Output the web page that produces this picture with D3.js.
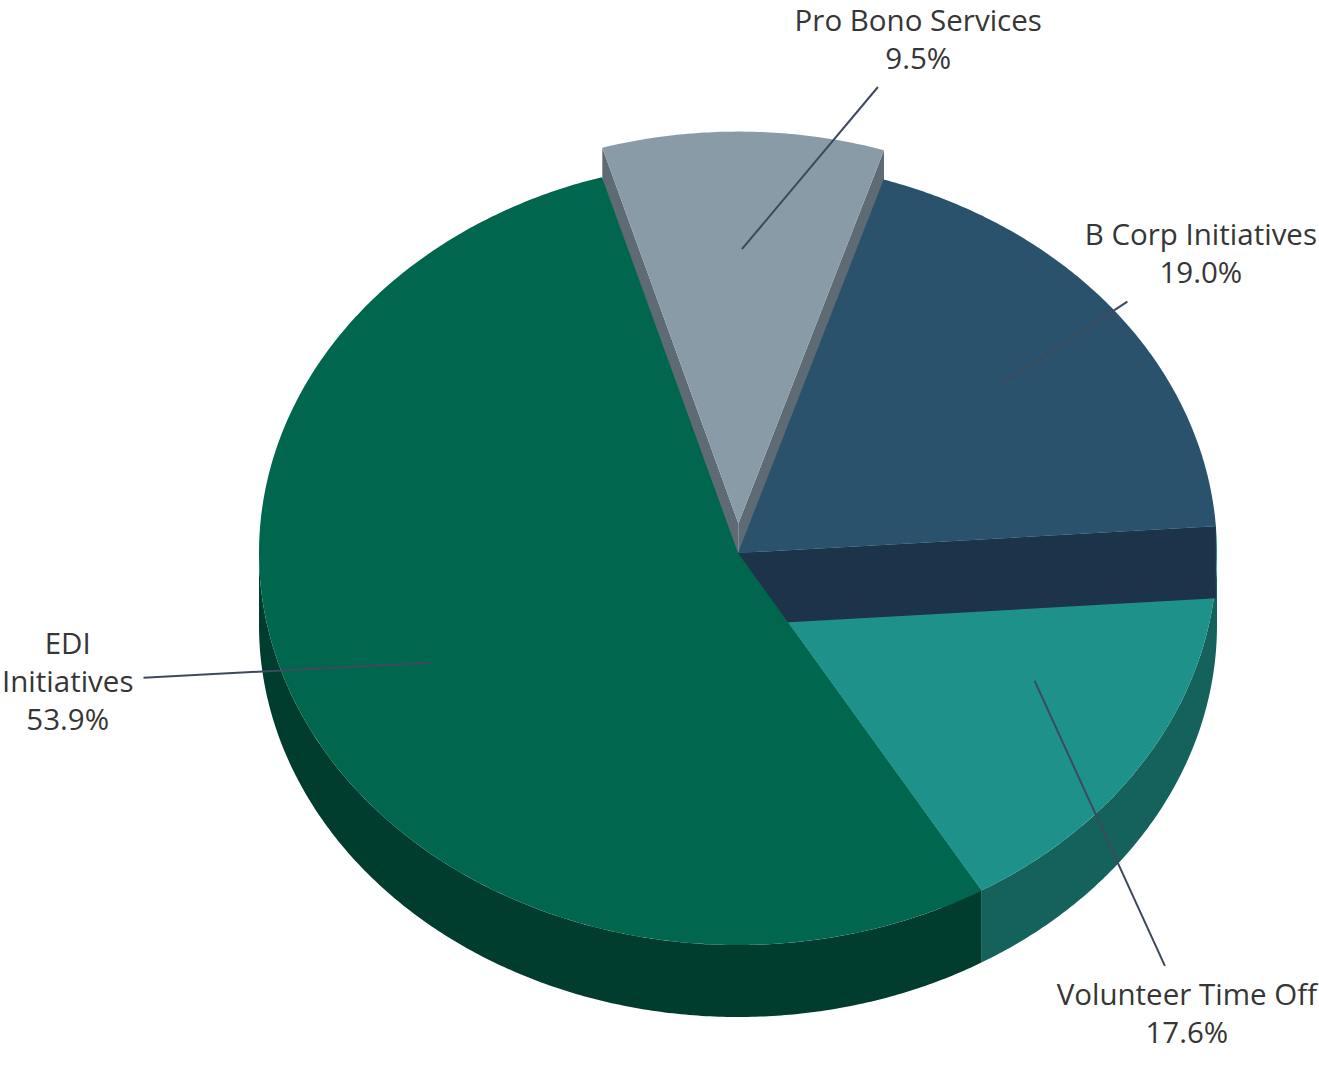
<!DOCTYPE html>
<html>
<head>
<meta charset="utf-8">
<script src="https://cdn.jsdelivr.net/npm/d3@7"></script>
<style>
  body { margin: 0; background: #ffffff; }
  svg { display: block; }
  .label text { font-family: "Open Sans", sans-serif; font-size: 29.5px; fill: #363636; }
</style>
</head>
<body>
<script>
// slices, clockwise from the top
var categories = ["Pro Bono Services", "B Corp Initiatives", "Volunteer Time Off", "EDI Initiatives"];
var shares = [9.5, 19.0, 17.6, 53.9];
var labelRows = [["Pro Bono Services"], ["B Corp Initiatives"], ["Volunteer Time Off"], ["EDI", "Initiatives"]];
var pulledOut = [true, false, false, false];

var topColors = ["#8a9ba8", "#2a526d", "#1e918a", "#00664e"];
var wallColors = ["#5f6b74", "#1d3349", "#15625c", "#003d2f"];

var W = 1319, H = 1070;
var pie3d = {cx: 738, cy: 553, rx: 479, ry: 392, depth: 72, start: -16.5, pull: 0.075};
var labelLayout = {shift: 13, sx: 1.6, sy: 1.8, inner: 0.7, gap: 10, lineH: 38};

var rad = Math.PI / 180;

// pie plane (-1..1) onto the screen
var xs = d3.scaleLinear().domain([-1, 1]).range([pie3d.cx - pie3d.rx, pie3d.cx + pie3d.rx]);
var ys = d3.scaleLinear().domain([-1, 1]).range([pie3d.cy + pie3d.ry, pie3d.cy - pie3d.ry]);

function proj(a, r, h, off) {
    off = off || [0, 0];
    return [xs(r * Math.sin(a)) + off[0], ys(r * Math.cos(a)) + (h || 0) + off[1]];
}

function rim(a0, a1, h, off) {
    var n = Math.max(2, Math.ceil(Math.abs(a1 - a0) / (0.5 * rad)));
    return d3.range(n + 1).map(function(k) { return proj(a0 + (a1 - a0) * k / n, 1, h, off); });
}

var line = d3.line();

var arcs = d3.pie().sort(null)
    .startAngle(pie3d.start * rad)
    .endAngle(pie3d.start * rad + 2 * Math.PI)(shares);

var offsets = arcs.map(function(d, i) {
    if (!pulledOut[i]) return [0, 0];
    var m = (d.startAngle + d.endAngle) / 2;
    return [xs(pie3d.pull * Math.sin(m)) - xs(0), ys(pie3d.pull * Math.cos(m)) - ys(0)];
});

var svg = d3.select("body").append("svg")
    .attr("width", W).attr("height", H)
    .attr("viewBox", "0 0 " + W + " " + H);

var body = svg.append("g").attr("class", "pie");

// slices are painted from the smallest share to the largest
var order = d3.range(shares.length).sort(function(a, b) { return shares[a] - shares[b]; });

order.forEach(function(i) {
    var d = arcs[i], off = offsets[i];
    var a0 = d.startAngle, a1 = d.endAngle;
    var c0 = proj(0, 0, 0, off), c1 = proj(0, 0, pie3d.depth, off);

    // radial walls that face the viewer
    if (Math.sin(a0) < 0) {
        var p = proj(a0, 1, 0, off), q = proj(a0, 1, pie3d.depth, off);
        body.append("path").attr("d", line([c0, p, q, c1]) + "Z").attr("fill", wallColors[i]);
    }
    if (Math.sin(a1) > 0) {
        var p2 = proj(a1, 1, 0, off), q2 = proj(a1, 1, pie3d.depth, off);
        body.append("path").attr("d", line([c0, p2, q2, c1]) + "Z").attr("fill", wallColors[i]);
    }

    // outer wall, front half only
    var lo = Math.max(a0, Math.PI / 2), hi = Math.min(a1, 1.5 * Math.PI);
    if (lo < hi) {
        var pts = rim(lo, hi, 0, off).concat(rim(lo, hi, pie3d.depth, off).reverse());
        body.append("path").attr("d", line(pts) + "Z").attr("fill", wallColors[i]);
    }

    // top face
    var topPts = [c0].concat(rim(a0, a1, 0, off));
    body.append("path").attr("d", line(topPts) + "Z").attr("fill", topColors[i]);
});

// labels
var fmt = d3.format(".1f");
var labels = svg.append("g").attr("class", "label");

arcs.forEach(function(d, i) {
    var mid = (d.startAngle + d.endAngle) / 2;
    var inner = proj(mid, labelLayout.inner, 0, offsets[i]);
    var rows = labelRows[i].concat([fmt(shares[i]) + "%"]);

    var g = labels.append("g");
    var texts = g.selectAll("text").data(rows).enter().append("text")
        .attr("text-anchor", "middle")
        .text(function(t) { return t; });

    var w = d3.max(texts.nodes(), function(n) { return n.getComputedTextLength(); });
    var h = rows.length * labelLayout.lineH;
    var la = mid + labelLayout.shift * rad;
    var c = [xs(labelLayout.sx * Math.sin(la)), ys(labelLayout.sy * Math.cos(la))];
    c[0] = Math.max(w / 2 + 2, Math.min(W - w / 2 - 2, c[0]));
    c[1] = Math.max(h / 2 + 1, Math.min(H - h / 2, c[1]));

    texts.attr("x", c[0])
        .attr("y", function(t, k) { return c[1] - h / 2 + labelLayout.lineH * (k + 0.5); })
        .attr("dy", "0.36em");

    var dx = c[0] - inner[0], dy = c[1] - inner[1];
    var s = Math.min((w / 2 + labelLayout.gap) / Math.abs(dx), (h / 2 + labelLayout.gap) / Math.abs(dy));
    var end = [c[0] - dx * s, c[1] - dy * s];

    labels.insert("line", ":first-child")
        .attr("x1", inner[0]).attr("y1", inner[1])
        .attr("x2", end[0]).attr("y2", end[1])
        .attr("stroke", "#3d4a5c")
        .attr("stroke-width", 2);
});
</script>
</body>
</html>
